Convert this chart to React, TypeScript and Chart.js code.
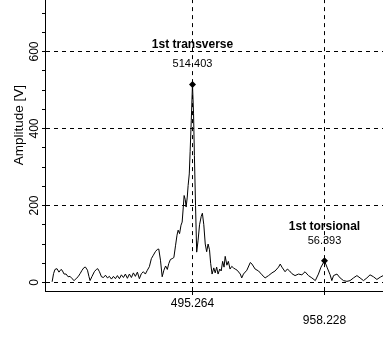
import { useEffect, useRef } from 'react';
import { Chart, registerables } from 'chart.js';

Chart.register(...registerables);

// Spectrum (frequency [Hz] / amplitude [V])
const FREQ = [
  3, 8, 13, 20, 27, 34, 38, 45, 52, 59, 66, 73, 80, 87, 94, 101, 108, 115, 120, 127,
  132, 136, 143, 151, 158, 163, 169, 176, 183, 190, 197, 204, 211, 218, 225, 232, 239, 246, 253, 260,
  267, 274, 281, 288, 295, 302, 309, 316, 323, 330, 337, 344, 351, 358, 365, 372, 377, 383, 389, 395,
  401, 407, 412, 418, 424, 430, 436, 441, 445, 450, 455, 459, 463, 466, 470, 473, 477, 480, 484, 487,
  491, 495.264, 499, 502, 506, 510, 515, 520, 526, 530, 535, 540, 545, 550, 555, 559, 564, 570, 575, 580,
  585, 591, 596, 601, 606, 610, 616, 621, 627, 633, 639, 645, 652, 663, 668, 674, 686, 698, 704, 715,
  727, 739, 750, 762, 774, 785, 797, 803, 809, 820, 828, 836, 844, 855, 867, 879, 890, 902, 914, 926,
  937, 946, 958.228, 967, 978, 984, 990, 1002, 1013, 1025, 1037, 1048, 1060, 1072, 1083, 1095, 1107, 1118, 1130, 1142,
  1154, 1164, 1175, 1189,
];
const AMP = [
  2, 23, 34, 36, 27, 34, 32, 22, 22, 15, 16, 10, 5, 10, 15, 23, 32, 39, 40, 32,
  16, 5, 16, 28, 34, 36, 28, 15, 13, 19, 12, 16, 9, 16, 10, 18, 10, 20, 13, 22,
  11, 22, 13, 25, 16, 27, 10, 23, 28, 22, 32, 41, 62, 71, 80, 86, 87, 58, 15, 32,
  43, 34, 49, 60, 62, 65, 97, 123, 136, 127, 149, 157, 196, 226, 215, 196, 222, 252, 282, 340,
  420, 514.403, 440, 330, 200, 79, 110, 150, 172, 180, 150, 100, 80, 100, 85, 50, 22, 38, 25, 40,
  22, 35, 30, 55, 40, 68, 45, 55, 35, 42, 38, 35, 32, 22, 12, 22, 32, 52, 48, 35,
  30, 20, 12, 18, 25, 30, 40, 48, 40, 28, 35, 30, 23, 18, 22, 20, 28, 18, 12, 5,
  22, 40, 56.393, 40, 20, 5, 18, 22, 12, 5, 3, 5, 12, 18, 12, 5, 12, 20, 15, 8,
  14, 18, 12, 15,
];

// Marked peaks
const PEAK_NAMES = ['1st transverse', '1st torsional'];
const PEAK_FREQ = [495.264, 958.228];
const PEAK_AMP = [514.403, 56.393];

// Axis ticks
const Y_TICKS = [0, 50, 100, 150, 200, 250, 300, 350, 400, 450, 500, 550, 600, 650, 700, 750, 800];
const Y_LABEL_STEP = 200;
const X_MIN = -22;
const X_MAX = 1250;
const Y_MIN = -22;
const Y_MAX = 840;

const FONT = '"Liberation Sans", Arial, Helvetica, sans-serif';
const TITLE_OFFSETS = [40, 34];

const peakLabels = {
  id: 'peakLabels',
  afterDatasetsDraw(chart: any) {
    const { ctx, scales } = chart;
    const xs = scales.x;
    const ys = scales.y;
    ctx.save();
    ctx.fillStyle = '#000';
    ctx.textAlign = 'center';
    ctx.textBaseline = 'middle';
    PEAK_FREQ.forEach((f, i) => {
      const px = xs.getPixelForValue(f);
      const py = ys.getPixelForValue(PEAK_AMP[i]);
      ctx.font = `bold 12px ${FONT}`;
      ctx.fillText(PEAK_NAMES[i], px, py - TITLE_OFFSETS[i]);
      ctx.font = `11px ${FONT}`;
      ctx.fillText(PEAK_AMP[i].toFixed(3), px, py - 20);
    });
    ctx.restore();
  },
};

export default function App() {
  const ref = useRef<HTMLCanvasElement | null>(null);

  useEffect(() => {
    if (!ref.current) return;
    const chart = new Chart(ref.current, {
      type: 'line',
      data: {
        datasets: [
          {
            data: FREQ.map((f, i) => ({ x: f, y: AMP[i] })),
            borderColor: '#000',
            borderWidth: 1,
            pointRadius: 0,
            tension: 0,
            fill: false,
          },
          {
            type: 'scatter',
            data: PEAK_FREQ.map((f, i) => ({ x: f, y: PEAK_AMP[i] })),
            pointStyle: 'rectRot',
            pointRadius: 3.5,
            backgroundColor: '#000',
            borderColor: '#000',
            borderWidth: 0,
            showLine: false,
          } as any,
        ],
      },
      options: {
        animation: false,
        responsive: false,
        devicePixelRatio: 1,
        layout: { padding: { top: 9.1, left: 0, right: 12.33, bottom: 0 } },
        plugins: { legend: { display: false }, tooltip: { enabled: false } },
        scales: {
          x: {
            type: 'linear',
            min: X_MIN,
            max: X_MAX,
            afterBuildTicks: (s: any) => {
              s.ticks = PEAK_FREQ.map((v) => ({ value: v }));
            },
            afterFit: (s: any) => {
              s.height = 47;
              s.paddingLeft = 0;
              s.paddingRight = 0;
            },
            ticks: {
              autoSkip: false,
              minRotation: 0,
              maxRotation: 0,
              padding: 0.5,
              color: '#000',
              font: { family: FONT, size: 12, lineHeight: 17 / 12 },
              callback: (v: any, i: number) =>
                i % 2 === 0 ? Number(v).toFixed(3) : ['', Number(v).toFixed(3)],
            },
            grid: { color: '#000', lineWidth: 1, tickLength: 4, tickColor: '#000' },
            border: { display: true, color: '#000', width: 1, dash: [4, 4] },
          },
          y: {
            type: 'linear',
            min: Y_MIN,
            max: Y_MAX,
            afterBuildTicks: (s: any) => {
              s.ticks = Y_TICKS.map((v) => ({ value: v }));
            },
            afterFit: (s: any) => {
              s.width = 45;
              s.paddingTop = 0;
              s.paddingBottom = 0;
            },
            ticks: {
              autoSkip: false,
              minRotation: 90,
              maxRotation: 90,
              crossAlign: 'center',
              padding: -2.3,
              color: '#000',
              font: { family: FONT, size: 12 },
              callback: (v: any) => (Number(v) % Y_LABEL_STEP === 0 ? String(v) : ''),
            },
            grid: {
              color: (c: any) =>
                c.tick && c.tick.value % Y_LABEL_STEP === 0 ? '#000' : 'rgba(0,0,0,0)',
              tickColor: '#000',
              tickLength: 3,
              lineWidth: 1,
            },
            border: { display: true, color: '#000', width: 1, dash: [4, 4] },
            title: {
              display: true,
              text: 'Amplitude [V]',
              color: '#000',
              font: { family: FONT, size: 13.5 },
              padding: { top: 10.9, bottom: 0 },
            },
          },
        },
      } as any,
      plugins: [peakLabels],
    });
    return () => chart.destroy();
  }, []);

  return (
    <div
      style={{
        position: 'fixed',
        left: 0,
        top: 0,
        width: 383,
        height: 338,
        overflow: 'hidden',
        background: '#fff',
      }}
    >
      <canvas
        ref={ref}
        width={420}
        height={388}
        style={{ position: 'absolute', left: 0, top: -50, width: 420, height: 388 }}
      />
    </div>
  );
}
